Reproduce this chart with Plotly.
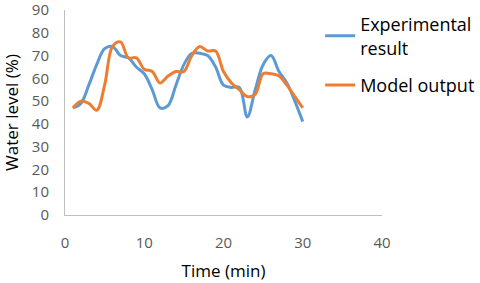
import plotly.graph_objects as go

time_min = list(range(1, 31))
experimental = [47, 49, 57, 66, 73, 74, 70, 69, 65, 62, 55, 47, 48, 57, 66, 71, 71, 70, 65, 57,
                56, 56, 43, 55, 66, 70, 63, 58, 50, 41]
model = [47, 50, 49, 46, 57, 74, 76, 69, 69, 64, 63, 58, 61, 63, 63, 70, 74, 72, 72, 63,
         58, 55, 52, 53, 62, 62, 61, 57, 52, 47]

x_ticks = [0, 10, 20, 30, 40]
y_ticks = [0, 10, 20, 30, 40, 50, 60, 70, 80, 90]

FONT = "Open Sans"

fig = go.Figure()
fig.add_trace(go.Scatter(x=time_min, y=experimental, mode="lines", name="Experimental<br>result",
                         line=dict(color="#5B9BD5", width=3, shape="spline", smoothing=1.0),
                         legendgroup="a"))
fig.add_trace(go.Scatter(x=time_min, y=model, mode="lines", name="Model output",
                         line=dict(color="#ED7D31", width=3, shape="spline", smoothing=1.0),
                         legendgroup="b"))

fig.update_layout(
    width=480, height=283,
    margin=dict(l=65, r=98, t=10, b=68, autoexpand=False),
    paper_bgcolor="white", plot_bgcolor="white",
    font=dict(family=FONT, color="#595959", size=15),
    legend=dict(x=0.805, xanchor="left", y=1.02, yanchor="top",
                font=dict(family=FONT, size=18, color="#000000"),
                tracegroupgap=11, bgcolor="rgba(0,0,0,0)", itemwidth=30),
    xaxis=dict(range=[0, 40], tickvals=x_ticks, showgrid=False, zeroline=False,
               showline=True, linecolor="#BFBFBF", linewidth=1, automargin=False,
               ticks="outside", ticklen=14, tickcolor="rgba(0,0,0,0)",
               ticklabeloverflow="allow",
               title=dict(text="Time (min)", font=dict(size=17, color="#000000"), standoff=14)),
    yaxis=dict(range=[0, 90], tickvals=y_ticks, showgrid=False, zeroline=False,
               showline=True, linecolor="#BFBFBF", linewidth=1, automargin=False,
               ticks="outside", ticklen=12, tickcolor="rgba(0,0,0,0)",
               ticklabeloverflow="allow",
               title=dict(text="Water level (%)", font=dict(size=17, color="#000000"), standoff=9)),
)

fig.write_html("out.html", config={"displayModeBar": False},
               post_script="document.body.style.margin='0';")
